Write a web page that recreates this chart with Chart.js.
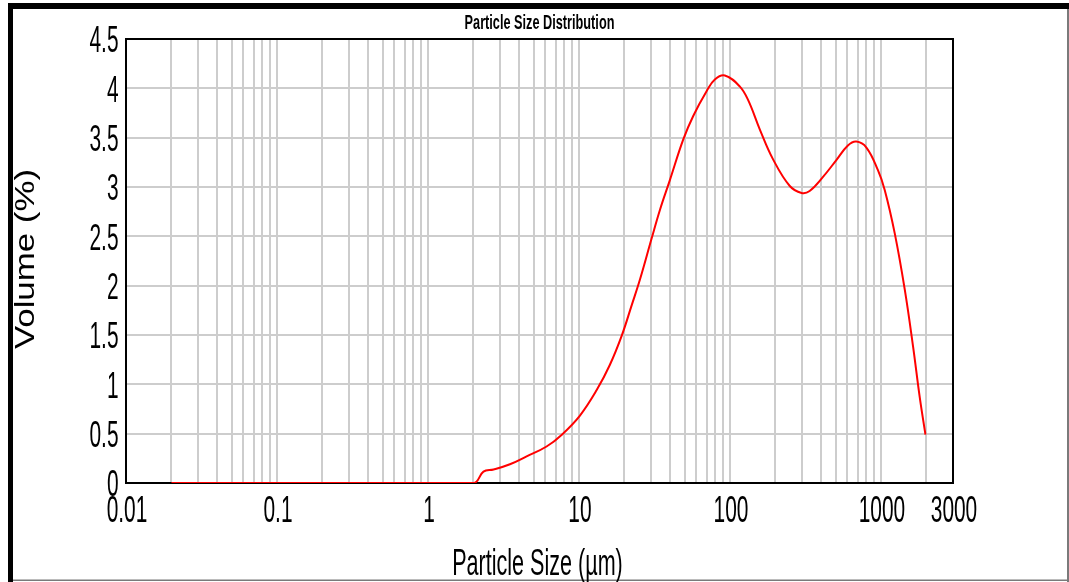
<!DOCTYPE html>
<html>
<head>
<meta charset="utf-8">
<script src="https://cdn.jsdelivr.net/npm/chart.js@4.4.1/dist/chart.umd.min.js"></script>
<style>
  html, body { margin: 0; padding: 0; background: #ffffff; }
  #wrap { width: 1069px; height: 582px; position: relative; }
</style>
</head>
<body>
<div id="wrap"><canvas id="c" width="1069" height="582"></canvas></div>
<script>
// ---- data ----
const chartTitle = 'Particle Size Distribution';
const xAxisTitle = 'Particle Size (\u00b5m)';
const yAxisTitle = 'Volume (%)';

const sizes = [0.02, 2, 2.33, 2.72, 3.49, 4.5, 6.1, 7.7, 10.15, 13.1, 16.0, 19.2, 22.3, 25.4, 30.3, 34.4, 40.0, 49.0, 57.1, 70.0, 79.4, 92.5, 116, 132, 158, 193, 249, 298, 337, 412, 505, 604, 686, 801, 955, 1059, 1234, 1438, 1633, 1806, 1971];
const volumes = [0, 0, 0.115, 0.137, 0.19, 0.27, 0.37, 0.49, 0.684, 0.942, 1.196, 1.494, 1.798, 2.067, 2.48, 2.77, 3.07, 3.48, 3.72, 3.97, 4.09, 4.13, 4.02, 3.88, 3.58, 3.28, 3.01, 2.94, 2.96, 3.10, 3.27, 3.42, 3.46, 3.40, 3.17, 2.97, 2.53, 1.96, 1.38, 0.87, 0.49];

const xTickValues = [0.01, 0.1, 1, 10, 100, 1000, 3000];
const xTickLabels = ['0.01', '0.1', '1', '10', '100', '1000', '3000'];
const yTickValues = [0, 0.5, 1, 1.5, 2, 2.5, 3, 3.5, 4, 4.5];
const yTickLabels = ['0', '0.5', '1', '1.5', '2', '2.5', '3', '3.5', '4', '4.5'];
const xMin = 0.01, xMax = 3000, yMin = 0, yMax = 4.5;

// log grid positions (1..9 x each decade) up to the axis end
const xGridValues = [];
for (let d = -2; d <= 3; d++) {
  for (let m = 1; m <= 9; m++) {
    const v = Number((m * Math.pow(10, d)).toPrecision(3));
    if (v <= xMax) xGridValues.push(v);
  }
}

// ---- helpers ----
const FONT = "'Liberation Sans', Arial, sans-serif";
function stretchText(ctx, text, x, y, font, sx, sy, align, angle) {
  ctx.save();
  ctx.translate(x, y);
  if (angle) ctx.rotate(angle);
  ctx.scale(sx, sy);
  ctx.font = font;
  ctx.fillStyle = '#000';
  ctx.textAlign = align;
  ctx.textBaseline = 'alphabetic';
  ctx.fillText(text, 0, 0);
  ctx.restore();
}

const framePlugin = {
  id: 'frame',
  beforeDatasetsDraw(chart) {
    const { ctx, chartArea: a } = chart;
    ctx.save();
    ctx.strokeStyle = '#000';
    ctx.lineWidth = 2;
    ctx.strokeRect(a.left, a.top, a.right - a.left, a.bottom - a.top);
    ctx.restore();
  },
  afterDraw(chart) {
    const { ctx, chartArea: a } = chart;
    const xs = chart.scales.x, ys = chart.scales.y;
    // outer picture frame
    ctx.save();
    ctx.fillStyle = '#000';
    ctx.fillRect(8, 3, 1061, 6);
    ctx.fillRect(8, 3, 5, 579);
    ctx.fillStyle = '#7a7a7a';
    ctx.fillRect(1067, 9, 2, 573);
    ctx.fillRect(13, 579.5, 1056, 1.5);
    ctx.restore();

    // title
    stretchText(ctx, chartTitle, (a.left + a.right) / 2, 29, 'bold 12px ' + FONT, 1.06, 1.69, 'center');

    // y tick labels
    yTickValues.forEach((v, i) => {
      const py = ys.getPixelForValue(v);
      stretchText(ctx, yTickLabels[i], a.left - 7.5, py + 13.4, '22px ' + FONT, 0.95, 1.7, 'right');
    });
    // x tick labels
    xTickValues.forEach((v, i) => {
      const px = xs.getPixelForValue(v);
      stretchText(ctx, xTickLabels[i], px + 1, a.bottom + 38.5, '22px ' + FONT, 0.95, 1.7, 'center');
    });
    // axis titles
    stretchText(ctx, xAxisTitle, (a.left + a.right) / 2 - 2, 575, '22px ' + FONT, 0.98, 1.71, 'center');
    stretchText(ctx, yAxisTitle, 34, (a.top + a.bottom) / 2 - 2, '28px ' + FONT, 1.245, 1.0, 'center', -Math.PI / 2);
  }
};

new Chart(document.getElementById('c'), {
  type: 'line',
  data: {
    datasets: [{
      data: sizes.map((s, i) => ({ x: s, y: volumes[i] })),
      borderColor: '#ff0000',
      borderWidth: 2,
      pointRadius: 0,
      fill: false,
      tension: 0.4
    }]
  },
  options: {
    responsive: false,
    devicePixelRatio: 1,
    animation: false,
    layout: { padding: { left: 126, right: 116, top: 39, bottom: 99 } },
    plugins: { legend: { display: false }, tooltip: { enabled: false }, title: { display: false } },
    scales: {
      x: {
        type: 'logarithmic',
        min: xMin, max: xMax,
        afterBuildTicks(scale) { scale.ticks = xGridValues.map(v => ({ value: v })); },
        ticks: { display: false, padding: 0 },
        grid: { color: '#cdcdcd', lineWidth: 2, drawTicks: false },
        border: { display: false }
      },
      y: {
        type: 'linear',
        min: yMin, max: yMax,
        afterBuildTicks(scale) { scale.ticks = yTickValues.map(v => ({ value: v })); },
        ticks: { display: false, padding: 0 },
        grid: { color: '#cdcdcd', lineWidth: 2, drawTicks: false },
        border: { display: false }
      }
    }
  },
  plugins: [framePlugin]
});
</script>
</body>
</html>
